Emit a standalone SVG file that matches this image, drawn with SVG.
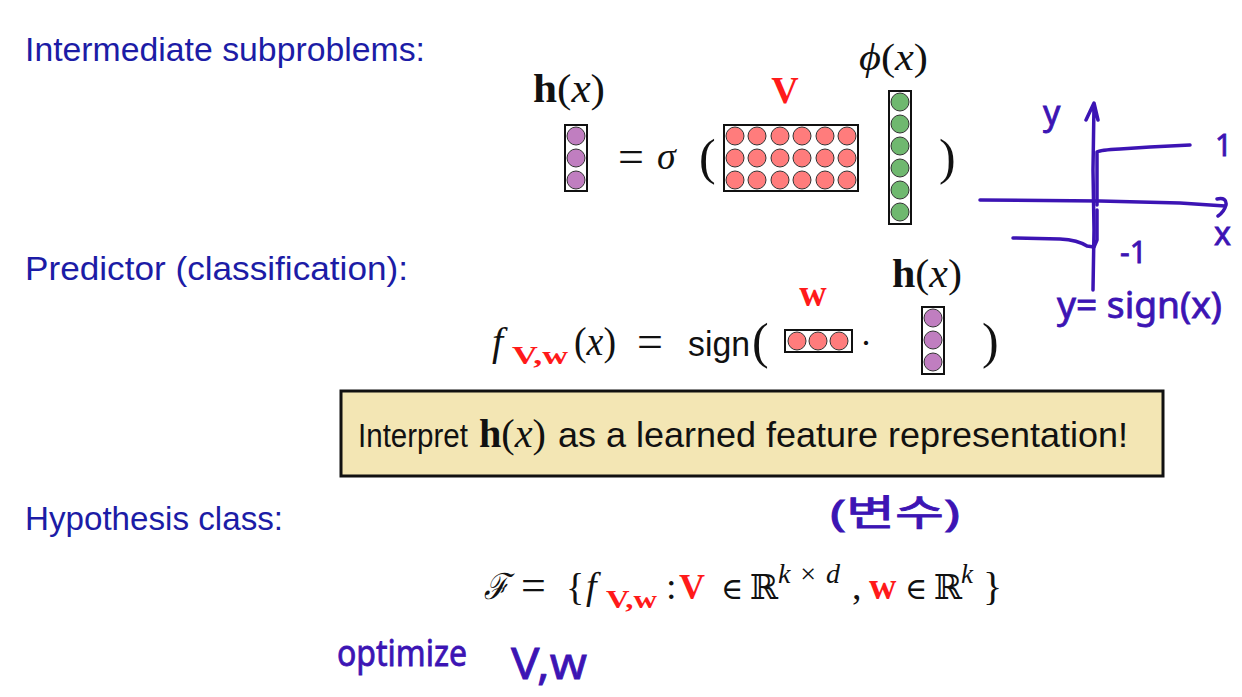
<svg xmlns="http://www.w3.org/2000/svg" width="1242" height="697" viewBox="0 0 1242 697">
<style>
.hd{font-family:"Liberation Sans","DejaVu Sans",sans-serif;fill:#1c1ca6;font-size:33px}
.m{font-family:"Liberation Serif","DejaVu Serif",serif;fill:#111}
.it{font-style:italic}
.b{font-weight:bold}
.red{fill:#ff1a1a}
.sans{font-family:"Liberation Sans","DejaVu Sans",sans-serif;fill:#111}
.vb{fill:none;stroke:#111;stroke-width:2}
.cp{fill:#c07ec0;stroke:#333;stroke-width:1}
.cr{fill:#ff7c7c;stroke:#333;stroke-width:1}
.cg{fill:#6fb86f;stroke:#333;stroke-width:1}
.pen{fill:none;stroke:#3c14b4;stroke-width:3.5;stroke-linecap:round;stroke-linejoin:round}
.hw{font-family:"Noto Sans","Noto Sans CJK KR",sans-serif;fill:#3c14b4;stroke:#3c14b4;stroke-width:0.8;font-weight:normal}
</style>
<rect width="1242" height="697" fill="#fff"/>

<g id="headings">
<text class="hd" x="25" y="61" textLength="400" lengthAdjust="spacingAndGlyphs">Intermediate subproblems:</text>
<text class="hd" x="25" y="280" textLength="383" lengthAdjust="spacingAndGlyphs">Predictor (classification):</text>
<text class="hd" x="25" y="530" textLength="258" lengthAdjust="spacingAndGlyphs">Hypothesis class:</text>
</g>

<g id="eq-hidden">
<text class="m" x="533" y="102" font-size="39" textLength="72" lengthAdjust="spacingAndGlyphs"><tspan class="b">h</tspan>(<tspan class="it">x</tspan>)</text>
<rect class="vb" x="565" y="125" width="22" height="66"/>
<circle class="cp" cx="576" cy="136" r="9"/>
<circle class="cp" cx="576" cy="158" r="9"/>
<circle class="cp" cx="576" cy="180" r="9"/>
<text class="m" x="618" y="172" font-size="46">=</text>
<text class="m it" x="657" y="169" font-size="38">σ</text>
<text class="m" x="699" y="174" font-size="50">(</text>
<text class="m b red" x="785" y="103" font-size="38" text-anchor="middle">V</text>
<rect class="vb" x="724" y="125" width="134" height="66"/>
<g>
<circle class="cr" cx="735" cy="136" r="9"/><circle class="cr" cx="757" cy="136" r="9"/><circle class="cr" cx="780" cy="136" r="9"/><circle class="cr" cx="802" cy="136" r="9"/><circle class="cr" cx="825" cy="136" r="9"/><circle class="cr" cx="847" cy="136" r="9"/>
<circle class="cr" cx="735" cy="158" r="9"/><circle class="cr" cx="757" cy="158" r="9"/><circle class="cr" cx="780" cy="158" r="9"/><circle class="cr" cx="802" cy="158" r="9"/><circle class="cr" cx="825" cy="158" r="9"/><circle class="cr" cx="847" cy="158" r="9"/>
<circle class="cr" cx="735" cy="180" r="9"/><circle class="cr" cx="757" cy="180" r="9"/><circle class="cr" cx="780" cy="180" r="9"/><circle class="cr" cx="802" cy="180" r="9"/><circle class="cr" cx="825" cy="180" r="9"/><circle class="cr" cx="847" cy="180" r="9"/>
</g>
<text class="m" x="859" y="70" font-size="38" textLength="69" lengthAdjust="spacingAndGlyphs"><tspan class="it">ϕ</tspan>(<tspan class="it">x</tspan>)</text>
<rect class="vb" x="889" y="91" width="22" height="133"/>
<circle class="cg" cx="900" cy="102" r="9"/>
<circle class="cg" cx="900" cy="124" r="9"/>
<circle class="cg" cx="900" cy="146" r="9"/>
<circle class="cg" cx="900" cy="168" r="9"/>
<circle class="cg" cx="900" cy="190" r="9"/>
<circle class="cg" cx="900" cy="212" r="9"/>
<text class="m" x="939" y="174" font-size="50">)</text>
</g>

<g id="eq-predictor">
<text class="m it" x="492" y="355" font-size="40">f</text>
<text class="m b red" x="512" y="364" font-size="25" textLength="56" lengthAdjust="spacingAndGlyphs">V,w</text>
<text class="m" x="574" y="355" font-size="40" textLength="42" lengthAdjust="spacingAndGlyphs">(<tspan class="it">x</tspan>)</text>
<text class="m" x="637" y="357" font-size="46">=</text>
<text class="sans" x="688" y="356" font-size="35" textLength="62" lengthAdjust="spacingAndGlyphs">sign</text>
<text class="m" x="752" y="358" font-size="50">(</text>
<text class="m b red" x="813" y="306" font-size="38" text-anchor="middle">w</text>
<rect class="vb" x="785" y="330" width="67" height="22"/>
<circle class="cr" cx="797" cy="341" r="9"/>
<circle class="cr" cx="818" cy="341" r="9"/>
<circle class="cr" cx="839" cy="341" r="9"/>
<text class="m" x="860" y="355" font-size="36">·</text>
<text class="m" x="892" y="287" font-size="39" textLength="70" lengthAdjust="spacingAndGlyphs"><tspan class="b">h</tspan>(<tspan class="it">x</tspan>)</text>
<rect class="vb" x="922" y="307" width="22" height="67"/>
<circle class="cp" cx="933" cy="318" r="9"/>
<circle class="cp" cx="933" cy="340" r="9"/>
<circle class="cp" cx="933" cy="362" r="9"/>
<text class="m" x="982" y="358" font-size="50">)</text>
</g>

<g id="note-box">
<rect x="341" y="391" width="822" height="85" fill="#f3e6b4" stroke="#111" stroke-width="3"/>
<text class="sans" x="358" y="447" font-size="33" textLength="110" lengthAdjust="spacingAndGlyphs">Interpret</text>
<text class="m" x="479" y="447" font-size="39" textLength="67" lengthAdjust="spacingAndGlyphs"><tspan class="b">h</tspan>(<tspan class="it">x</tspan>)</text>
<text class="sans" x="558" y="447" font-size="35" textLength="570" lengthAdjust="spacingAndGlyphs">as a learned feature representation!</text>
</g>

<g id="eq-hypothesis">
<text class="m it" x="484" y="599" font-size="36" font-family="DejaVu Serif" textLength="25" lengthAdjust="spacingAndGlyphs">ℱ</text>
<text class="m" x="521" y="600" font-size="44">=</text>
<text class="m" x="566" y="600" font-size="38">{</text>
<text class="m it" x="586" y="599" font-size="38">f</text>
<text class="m b red" x="606" y="608" font-size="25" textLength="51" lengthAdjust="spacingAndGlyphs">V,w</text>
<text class="m" x="666" y="599" font-size="38">:</text>
<text class="m b red" x="679" y="599" font-size="36">V</text>
<text class="m" x="721" y="599" font-size="30" font-family="DejaVu Serif">∈</text>
<text class="m" x="750" y="599" font-size="34" font-family="DejaVu Serif">ℝ</text>
<text class="m" x="778" y="583" font-size="28" textLength="62" lengthAdjust="spacing"><tspan class="it">k</tspan>×<tspan class="it">d</tspan></text>
<text class="m" x="852" y="599" font-size="38">,</text>
<text class="m b red" x="869" y="599" font-size="38">w</text>
<text class="m" x="905" y="599" font-size="30" font-family="DejaVu Serif">∈</text>
<text class="m" x="934" y="599" font-size="34" font-family="DejaVu Serif">ℝ</text>
<text class="m it" x="961" y="583" font-size="27">k</text>
<text class="m" x="983" y="600" font-size="40">}</text>
</g>

<g id="handwriting">
<path class="pen" d="M1093,290 L1094,230 L1093,170 L1094,104 M1086,120 L1094,103 L1098,120"/>
<path class="pen" d="M1097,205 L1097,152 Q1100,150 1120,149 L1150,147 L1190,145"/>
<path class="pen" d="M980,200 L1100,201 L1180,203 L1225,206 M1217,199 Q1227,197 1226,205 Q1224,212 1218,216"/>
<path class="pen" d="M1013,238 L1060,239 Q1078,240 1087,246 L1094,247 L1097,240 L1097,210"/>
<text class="hw" x="1043" y="125" font-size="34">y</text>
<text class="hw" x="1215" y="156" font-size="30">1</text>
<text class="hw" x="1214" y="245" font-size="32">x</text>
<text class="hw" x="1120" y="263" font-size="30">-1</text>
<text class="hw" x="1057" y="318" font-size="36" textLength="165" lengthAdjust="spacingAndGlyphs">y= sign(x)</text>
<text class="hw" x="830" y="526" font-size="36" textLength="130" lengthAdjust="spacingAndGlyphs">(변수)</text>
<text class="hw" x="337" y="666" font-size="36" textLength="130" lengthAdjust="spacingAndGlyphs">optimize</text>
<text class="hw" x="511" y="679" font-size="44" textLength="76" lengthAdjust="spacingAndGlyphs">V,w</text>
</g>
</svg>
